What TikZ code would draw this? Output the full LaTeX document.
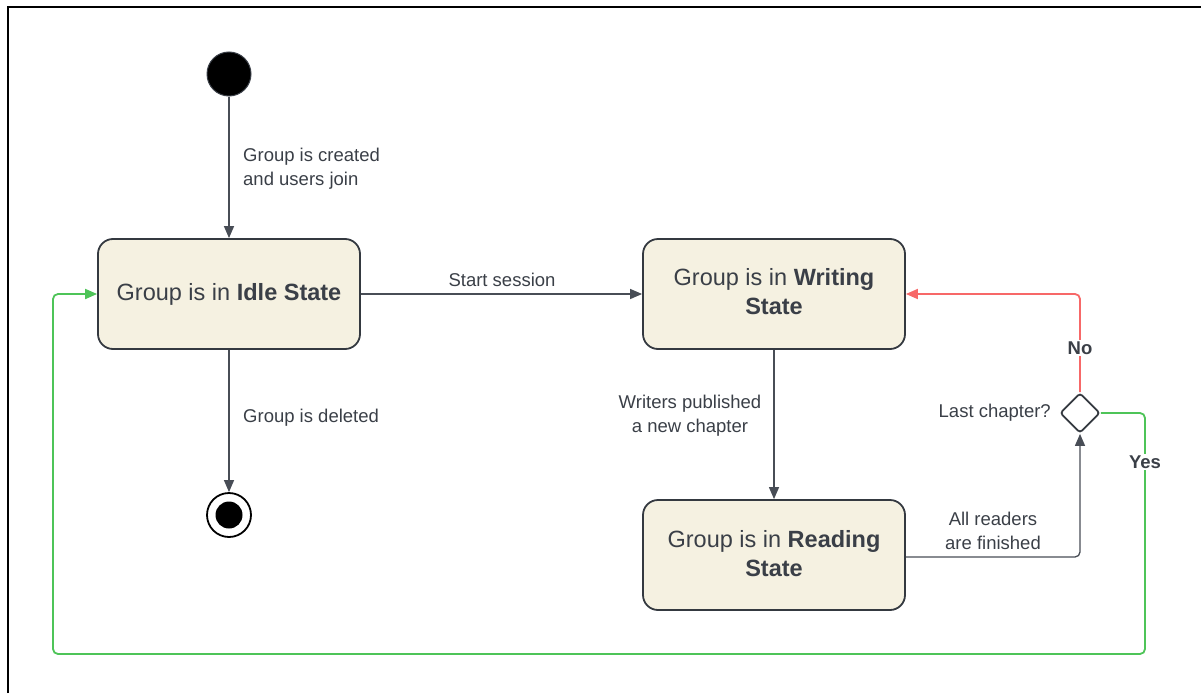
\documentclass[tikz,border=0pt]{standalone}
\usepackage{fontspec}
\setmainfont{Liberation Sans}
\usetikzlibrary{arrows.meta,shapes.geometric}
\definecolor{ink}{RGB}{58,63,71}
\definecolor{edge}{RGB}{72,77,86}
\definecolor{cream}{RGB}{245,241,225}
\definecolor{nored}{RGB}{247,104,104}
\definecolor{yesgreen}{RGB}{78,196,88}
\tikzset{
  state/.style={draw=ink!90!black, line width=1.8pt, fill=cream, rounded corners=15pt,
    minimum width=262pt, minimum height=110pt, align=center, text=ink,
    font=\fontsize{23.5}{29}\selectfont, inner sep=0pt},
  statetext/.style={align=center, text=ink, font=\fontsize{23.5}{29}\selectfont, inner sep=0pt},
  tip/.style={-{Triangle[length=12pt,width=10pt]}},
  flow/.style={draw=edge, line width=1.3pt, tip},
  lbl/.style={text=ink, font=\fontsize{18.5}{24}\selectfont, align=center, inner sep=1pt},
  choice/.style={text=ink, font=\bfseries\fontsize{18.5}{24}\selectfont, fill=white, inner sep=2pt},
}
\begin{document}
\begin{tikzpicture}[x=1pt,y=-1pt]
\useasboundingbox (0,0) rectangle (1201,693);
% outer frame
\draw[line width=2.2pt, black] (8,693) -- (8,7) -- (1201,7);

% states
\node[state] (idle) at (229,294) {Group is in \textbf{Idle State}};
\node[state] (write) at (774,294) {};
\node[statetext] (writetext) at (774,292) {Group is in \textbf{Writing}\\\textbf{State}};
\node[state] (read) at (774,555) {};
\node[statetext] (readtext) at (774,554) {Group is in \textbf{Reading}\\\textbf{State}};

% pseudo-states
\node[circle, fill=black, draw=ink, line width=1pt, minimum size=44pt, inner sep=0pt] (start) at (229,74) {};
\node[circle, draw=black, line width=1.8pt, fill=white, minimum size=44pt, inner sep=0pt] (stop) at (229,515) {};
\node[circle, fill=black, minimum size=27pt, inner sep=0pt] (stopdot) at (229,515) {};
\node[diamond, draw=ink!90!black, line width=1.8pt, fill=white, minimum size=40pt, inner sep=0pt, rounded corners=3pt, aspect=1] (dec) at (1080,413) {};

% transitions
\draw[flow] (start) -- (idle.north);
\node[lbl, align=left, anchor=west] (lcreate) at (242,169) {Group is created\\and users join};

\draw[flow] (idle.east) -- (write.west);
\node[lbl] (lstart) at (502,280) {Start session};

\draw[flow] (idle.south) -- (stop.north);
\node[lbl, anchor=west] (ldel) at (242,418) {Group is deleted};

\draw[flow] (write.south) -- (read.north);
\node[lbl] (lpub) at (690,416) {Writers published\\a new chapter};

\draw[flow, rounded corners=5pt] (read.east |- 0,557) -- (1080,557) -- (dec.south);
\node[lbl] (lfin) at (993,531) {All readers\\are finished};

\node[lbl, anchor=east] (lq) at (1052,413) {Last chapter?};

\draw[draw=nored, line width=1.8pt, rounded corners=5pt, tip]
  (dec.north) -- (1080,294) -- (write.east);
\node[choice] (lno) at (1080,348) {No};

\draw[draw=yesgreen, line width=1.8pt, rounded corners=5pt, tip]
  (dec.east) -- (1145,413) -- (1145,654) -- (53,654) -- (53,294) -- (idle.west);
\node[choice] (lyes) at (1145,462) {Yes};
\end{tikzpicture}
\end{document}
